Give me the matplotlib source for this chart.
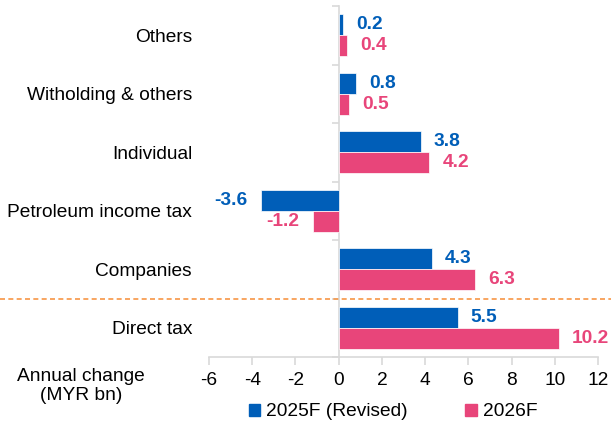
import numpy as np
import matplotlib.pyplot as plt
from matplotlib.patches import Patch

plt.rcParams['font.family'] = ['Liberation Sans', 'DejaVu Sans']
plt.rcParams['axes.unicode_minus'] = False

# data (top to bottom as shown)
categories = ['Others', 'Witholding & others', 'Individual',
              'Petroleum income tax', 'Companies', 'Direct tax']
rev2025 = [0.2, 0.8, 3.8, -3.6, 4.3, 5.5]
f2026 = [0.4, 0.5, 4.2, -1.2, 6.3, 10.2]
series_names = ['2025F (Revised)', '2026F']

BLUE = '#005EB8'
PINK = '#E8457A'
GREY = '#D9D9D9'
FS = 13.8

fig = plt.figure(figsize=(6.11, 4.24), dpi=100)
ax = fig.add_axes([209/611, 1-357/424, 389/611, 351/424])

n = len(categories)
y = np.arange(n)[::-1]
h = 0.36

ax.barh(y + h/2, rev2025, height=h, color=BLUE, edgecolor='white', linewidth=0.5)
ax.barh(y - h/2, f2026, height=h, color=PINK, edgecolor='white', linewidth=0.5)

# value labels
off = 13 * 72 / 100  # points
for yy, v in zip(y + h/2, rev2025):
    ax.annotate('%.1f' % v, (v, yy), xytext=(off if v >= 0 else -off, 0),
                textcoords='offset points', ha='left' if v >= 0 else 'right',
                va='center', color=BLUE, fontsize=FS, fontweight='bold')
for yy, v in zip(y - h/2, f2026):
    ax.annotate('%.1f' % v, (v, yy), xytext=(off if v >= 0 else -off, 0),
                textcoords='offset points', ha='left' if v >= 0 else 'right',
                va='center', color=PINK, fontsize=FS, fontweight='bold')

ax.set_xlim(-6, 12)
ax.set_ylim(-0.5, n - 0.5)
ax.set_xticks(np.arange(-6, 13, 2))
ax.set_yticks(y, categories)

for s in ['top', 'right', 'left']:
    ax.spines[s].set_visible(False)
ax.spines['bottom'].set_color(GREY)
ax.spines['bottom'].set_linewidth(1.2)
ax.tick_params(axis='x', length=6, width=1.2, color=GREY, labelsize=FS, pad=5)
ax.tick_params(axis='y', length=0, labelsize=FS, pad=17*0.72)

# zero axis with category separator ticks
sec = ax.secondary_yaxis(6/18)
sec.spines['left'].set_color(GREY)
sec.spines['left'].set_linewidth(1.2)
sec.set_yticks(np.arange(-0.5, n, 1.0))
sec.tick_params(axis='y', length=5, width=1.2, color=GREY, labelleft=False)

# dashed separator across full width
ax.axhline(0.5, xmin=-209/389, xmax=402/389, color='#F79646',
           linestyle=(0, (3, 2)), linewidth=1.2, clip_on=False)

fig.text(81/611, 1-386/424, 'Annual change\n(MYR bn)', ha='center',
         va='center', fontsize=FS, linespacing=1.15)

handles = [Patch(color=BLUE), Patch(color=PINK)]
fig.legend(handles, series_names, loc='center', bbox_to_anchor=(393/611, 1-412/424),
           ncol=2, frameon=False, fontsize=FS, handlelength=0.6, handleheight=0.6,
           handletextpad=0.3, columnspacing=3.0, borderpad=0)

fig.savefig('out.png', dpi=100)
